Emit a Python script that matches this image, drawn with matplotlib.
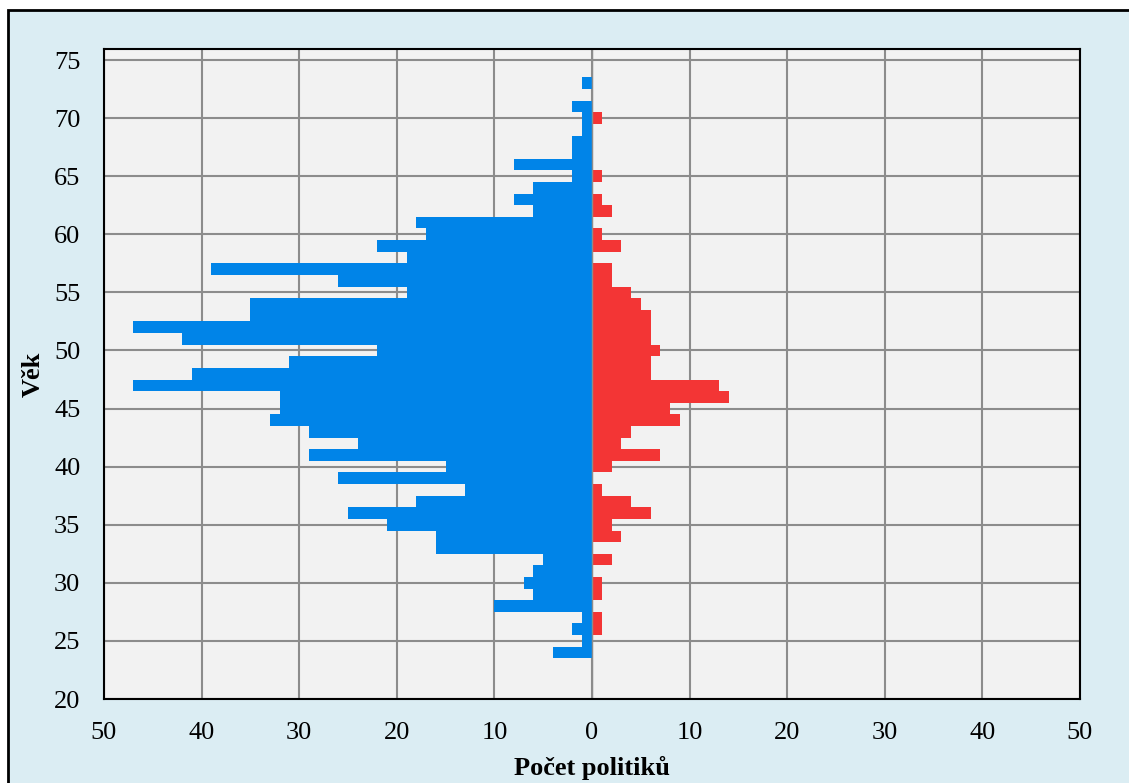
import numpy as np
import matplotlib
matplotlib.use("Agg")
import matplotlib.pyplot as plt
from matplotlib.patches import Rectangle
from matplotlib.ticker import FuncFormatter, MultipleLocator

plt.rcParams['font.family'] = ['Liberation Serif', 'DejaVu Serif']

# Age groups and counts (men on the left, women on the right)
ages = list(range(24, 74))
men = [4, 1, 2, 1, 10, 6, 7, 6, 5, 16,
       16, 21, 25, 18, 13, 26, 15, 29, 24, 29,
       33, 32, 32, 47, 41, 31, 22, 42, 47, 35,
       35, 19, 26, 39, 19, 22, 17, 18, 6, 8,
       6, 2, 8, 2, 2, 1, 1, 2, 0, 1]
women = [0, 0, 1, 1, 0, 1, 1, 0, 2, 0,
         3, 2, 6, 4, 1, 0, 2, 7, 3, 4,
         9, 8, 14, 13, 6, 6, 7, 6, 6, 6,
         5, 4, 2, 2, 0, 3, 1, 0, 2, 1,
         0, 1, 0, 0, 0, 0, 1, 0, 0, 0]

x_label = 'Počet politiků'
y_label = 'Věk'

fig = plt.figure(figsize=(11.29, 7.83), dpi=100, facecolor='white')
# light blue chart frame
frame = Rectangle((8 / 1129, -0.01), 1.02, 1 - 10 / 783 + 0.01,
                  transform=fig.transFigure, facecolor='#DBEDF3',
                  edgecolor='black', linewidth=2, zorder=-10)
fig.patches.append(frame)

ax = fig.add_axes([104 / 1129, 84 / 783, 976 / 1129, 650 / 783])
ax.set_zorder(1)
ax.set_facecolor('#F2F2F2')

ax.barh(ages, [-m for m in men], height=1.0, color='#0084E8', zorder=3)
ax.barh(ages, women, height=1.0, color='#F33535', zorder=3)
ax.axvline(0, color='#8C8C8C', linewidth=1.0, zorder=4)

ax.set_xlim(-50, 50)
ax.set_ylim(20, 75.95)
ax.xaxis.set_major_locator(MultipleLocator(10))
ax.yaxis.set_major_locator(MultipleLocator(5))
ax.xaxis.set_major_formatter(FuncFormatter(lambda v, p: f'{abs(v):.0f}'))
ax.grid(True, color='#8C8C8C', linewidth=1.5, zorder=1)
ax.set_axisbelow(True)

ax.tick_params(length=0, labelsize=19)
ax.tick_params(axis='y', pad=17)
ax.tick_params(axis='x', pad=16.5)
for s in ax.spines.values():
    s.set_color('black')
    s.set_linewidth(1.5)
    s.set_zorder(5)

ax.set_xlabel(x_label, fontsize=19, fontweight='bold', labelpad=9)
ax.set_ylabel(y_label, fontsize=19, fontweight='bold', labelpad=7)

fig.savefig('out.png', dpi=100)
